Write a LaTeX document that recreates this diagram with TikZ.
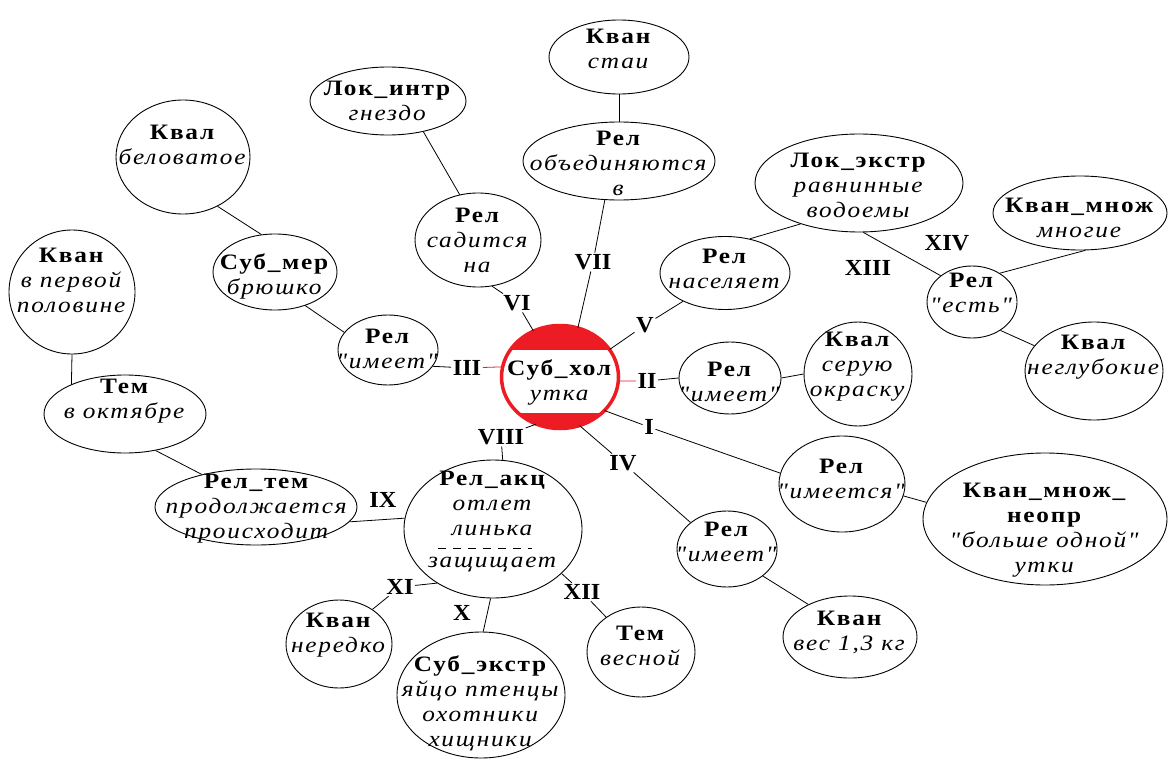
\documentclass[tikz,border=0pt]{standalone}
\usepackage{fontspec}
\setmainfont[FakeStretch=1.15, LetterSpace=8, Ligatures=TeXOff]{Liberation Serif}
\newfontfamily\romfont[FakeStretch=1.06]{Liberation Serif}
\usetikzlibrary{shapes.geometric}
\definecolor{mred}{RGB}{237,28,36}
\newcommand\E[6]{\node[ell, minimum width=#3, minimum height=#4] (#1) at (#2) {};
  \node[txt] (#1t) at (#5) {#6};}
\begin{document}
\begin{tikzpicture}[x=1pt,y=-1pt,
  ell/.style={draw, ellipse, line width=0.9pt, inner sep=0pt},
  txt/.style={align=center, inner sep=0pt, font=\fontsize{22}{25}\selectfont},
  lab/.style={inner sep=1.5pt, font=\romfont\fontsize{23}{25}\selectfont\bfseries},
  con/.style={line width=0.8pt},
]
\useasboundingbox[fill=white] (0,0) rectangle (1169,762);

% centre
\node[ellipse, minimum width=117, minimum height=103, inner sep=0pt] (c) at (560,377) {};
\fill[mred] (560,377) ellipse [x radius=58.5, y radius=51.5];
\begin{scope}
  \clip (560,377) ellipse [x radius=58.5, y radius=51.5];
  \fill[white] (495,350) rectangle (625,413);
\end{scope}
\draw[mred, line width=3.5pt] (560,377) ellipse [x radius=58.5, y radius=51.5];
\node[txt] (ct) at (560,382) {\textbf{Суб\_хол}\\\textit{утка}};

\E{kst}{619,57}{140}{74}{619,49}{\textbf{Кван}\\\textit{стаи}}
\E{rob}{619,161}{192}{78}{619,163}{\textbf{Рел}\\\textit{объединяются}\\\textit{в}}
\E{lok}{388,101}{156}{68}{388,101}{\textbf{Лок\_интр}\\\textit{гнездо}}
\E{rsa}{478,240}{126}{94}{478,240}{\textbf{Рел}\\\textit{садится}\\\textit{на}}
\E{kbe}{183,157}{134}{114}{183,145}{\textbf{Квал}\\\textit{беловатое}}
\E{sme}{275,272}{124}{76}{275,276}{\textbf{Суб\_мер}\\\textit{брюшко}}
\E{r3}{388,350}{100}{70}{388,349}{\textbf{Рел}\\\textit{"имеет"}}
\E{kpp}{72,292}{126}{124}{72,280}{\textbf{Кван}\\\textit{в первой}\\\textit{половине}}
\E{tok}{125,414}{162}{78}{125,401}{\textbf{Тем}\\\textit{в октябре}}
\E{rtm}{256,507}{202}{76}{257,509}{\textbf{Рел\_тем}\\\textit{продолжается}\\\textit{происходит}}
\E{rak}{493,529}{178}{138}{493,521}{\textbf{Рел\_акц}\\\textit{отлет}\\\textit{линька}\\[7pt]\textit{защищает}}
\E{kne}{339,644}{106}{88}{339,635}{\textbf{Кван}\\\textit{нередко}}
\E{sex}{481,695}{168}{126}{481,703}{\textbf{Суб\_экстр}\\\textit{яйцо птенцы}\\\textit{охотники}\\\textit{хищники}}
\E{tve}{641,652}{108}{90}{641,646}{\textbf{Тем}\\\textit{весной}}
\E{r4}{727,549}{100}{76}{727,542}{\textbf{Рел}\\\textit{"имеет"}}
\E{kve}{850,637}{134}{82}{850,632}{\textbf{Кван}\\\textit{вес 1,3 кг}}
\E{r1}{842,484}{126}{96}{842,479}{\textbf{Рел}\\\textit{"имеется"}}
\E{kmn}{1045,519}{244}{132}{1045,530}{\textbf{Кван\_множ\_}\\\textbf{неопр}\\\textit{"больше одной"}\\\textit{утки}}
\E{r2}{730,378}{102}{72}{730,382}{\textbf{Рел}\\\textit{"имеет"}}
\E{kso}{858,374}{108}{104}{858,367}{\textbf{Квал}\\\textit{серую}\\\textit{окраску}}
\E{rna}{725,273}{130}{73}{725,269}{\textbf{Рел}\\\textit{населяет}}
\E{lex}{859,183}{208}{98}{859,185}{\textbf{Лок\_экстр}\\\textit{равнинные}\\\textit{водоемы}}
\E{res}{972,302}{90}{72}{972,293}{\textbf{Рел}\\\textit{"есть"}}
\E{kmm}{1080,213}{174}{74}{1080,218}{\textbf{Кван\_множ}\\\textit{многие}}
\E{kng}{1094,371}{138}{98}{1094,357}{\textbf{Квал}\\\textit{неглубокие}}

\draw[dash pattern=on 8pt off 7pt, line width=0.8pt] (438,548) -- (532,548);

% labels
\node[lab] (l1) at (649,427) {I};
\node[lab] (l2) at (647,381) {II};
\node[lab] (l3) at (467,368) {III};
\node[lab] (l4) at (623,463) {IV};
\node[lab] (l5) at (645,325) {V};
\node[lab] (l6) at (517,303) {VI};
\node[lab] (l7) at (593,262) {VII};
\node[lab] (l8) at (501,437) {VIII};
\node[lab] (l9) at (383,500) {IX};
\node[lab] (l10) at (462,613) {X};
\node[lab] (l11) at (400,587) {XI};
\node[lab] (l12) at (582,592) {XII};
\node[lab] (l13) at (868,268) {XIII};
\node[lab] (l14) at (947,243) {XIV};

% connectors
\draw[con] (kst.south) -- (rob.north);
\draw[con] (rob.-110) -- (l7); \draw[con] (l7) -- (c.70);
\draw[con] (lok.-41) -- (rsa.112);
\draw[con] (rsa.-73) -- (l6); \draw[con] (l6) -- (c.120);
\draw[con] (kbe.-55) -- (sme.110);
\draw[con] (sme.-48) -- (r3.158);
\draw[con] (r3.-20) -- (l3); \draw[con,mred] (l3) -- (c.170);
\draw[con] (kpp.south) -- (tok.151);
\draw[con] (tok.-50) -- (rtm.149);
\draw[con] (rtm.-9) -- (rak.173);
\draw[con] (c.-117) -- (l8); \draw[con] (l8) -- (rak.82);
\draw[con] (rak.-136) -- (l11); \draw[con] (l11) -- (kne.46);
\draw[con] (rak.-92) -- (sex.88);
\draw[con] (rak.-33) -- (l12); \draw[con] (l12) -- (tve.135);
\draw[con] (c.-68) -- (l4); \draw[con] (l4) -- (r4.144);
\draw[con] (r4.-37) -- (kve.142);
\draw[con] (c.-37) -- (l1); \draw[con] (l1) -- (r1.170);
\draw[con] (r1.-11) -- (kmn.172);
\draw[con,mred] (c.-4) -- (l2); \draw[con] (l2) -- (r2.west);
\draw[con] (r2.east) -- (kso.west);
\draw[con] (c.29) -- (l5); \draw[con] (l5) -- (rna.-146);
\draw[con] (rna.54) -- (lex.-145);
\draw[con] (lex.-85) -- (res.140);
\draw[con] (res.46) -- (kmm.-82);
\draw[con] (res.-45) -- (kng.157);
\end{tikzpicture}
\end{document}
